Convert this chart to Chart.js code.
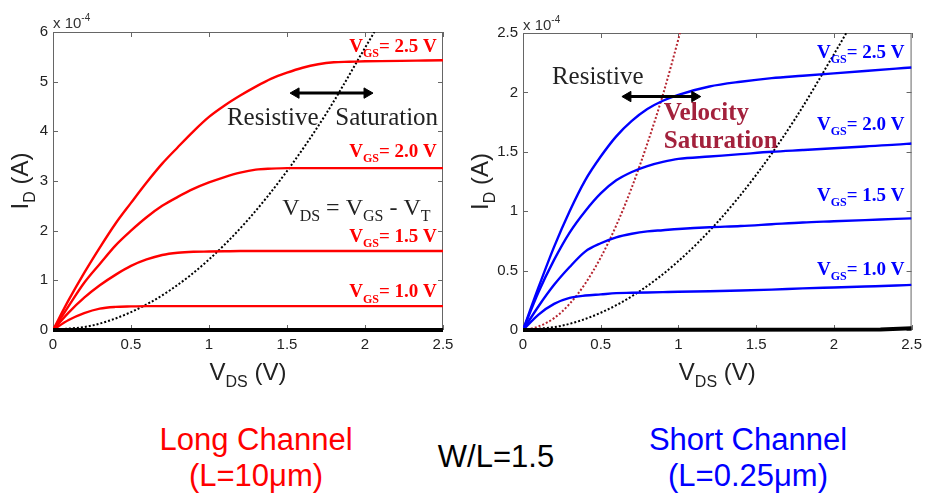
<!DOCTYPE html>
<html>
<head>
<meta charset="utf-8">
<script src="https://cdn.jsdelivr.net/npm/chart.js@4/dist/chart.umd.min.js"></script>
<style>
  body { margin: 0; background: #fff; }
  #wrap { position: relative; width: 928px; height: 498px; overflow: hidden; }
  canvas { position: absolute; top: 0; }
  .cap { position: absolute; width: 300px; text-align: center; font-family: "Liberation Sans", Arial, sans-serif; font-size: 31px; line-height: 31px; white-space: nowrap; }
</style>
</head>
<body>
<div id="wrap">
  <canvas id="long" width="465" height="400" style="left:0"></canvas>
  <canvas id="short" width="463" height="400" style="left:465px"></canvas>
  <div class="cap" style="left:106px; top:424px; color:#ff0000">Long Channel</div>
  <div class="cap" style="left:106px; top:460px; color:#ff0000">(L=10μm)</div>
  <div class="cap" style="left:346px; top:441px; color:#000">W/L=1.5</div>
  <div class="cap" style="left:598px; top:424px; color:#0000ff">Short Channel</div>
  <div class="cap" style="left:598px; top:460px; color:#0000ff">(L=0.25μm)</div>
</div>
<script>
// I-V curves, drain current in units of 1e-4 A
const vdsTicks = [0, 0.5, 1, 1.5, 2, 2.5];
const longIdTicks = [0, 1, 2, 3, 4, 5, 6];
const shortIdTicks = [0, 0.5, 1, 1.5, 2, 2.5];

// long channel, L = 10um
const longVds = [0, 0.1, 0.2, 0.3, 0.4, 0.5, 0.6, 0.7, 0.8, 0.9, 1.0, 1.1, 1.2, 1.3, 1.4, 1.5, 1.6, 1.7, 1.8, 1.9, 2.0, 2.5];
const longId25 = [0, 0.6, 1.15, 1.66, 2.14, 2.56, 2.97, 3.35, 3.68, 4.0, 4.29, 4.52, 4.72, 4.9, 5.06, 5.18, 5.28, 5.35, 5.39, 5.4, 5.41, 5.43];
const longId20 = [0, 0.48, 0.95, 1.33, 1.7, 2.0, 2.27, 2.5, 2.68, 2.84, 2.97, 3.08, 3.17, 3.23, 3.25, 3.26, 3.26, 3.26, 3.26, 3.26, 3.26, 3.26];
const longId15 = [0, 0.35, 0.65, 0.9, 1.11, 1.29, 1.42, 1.51, 1.555, 1.575, 1.58, 1.585, 1.59, 1.59, 1.59, 1.59, 1.59, 1.59, 1.59, 1.59, 1.59, 1.59];
const longId10 = [0, 0.2, 0.34, 0.43, 0.465, 0.475, 0.48, 0.48, 0.48, 0.48, 0.48, 0.48, 0.48, 0.48, 0.48, 0.48, 0.48, 0.48, 0.48, 0.48, 0.48, 0.48];
const longEdgeVds = [0, 0.25, 0.5, 0.75, 1.0, 1.25, 1.5, 1.75, 2.0, 2.06];
const longEdgeId = [0, 0.09, 0.36, 0.8, 1.42, 2.22, 3.2, 4.35, 5.68, 6.0];
const longOffVds = [0, 2.5];
const longOffId = [0, 0];

// short channel, L = 0.25um
const shortVds = [0, 0.1, 0.2, 0.3, 0.4, 0.5, 0.6, 0.7, 0.8, 0.9, 1.0, 1.2, 1.4, 1.6, 1.8, 2.0, 2.2, 2.4, 2.5];
const shortId25 = [0, 0.36, 0.7, 1.0, 1.26, 1.46, 1.63, 1.76, 1.86, 1.93, 1.98, 2.05, 2.09, 2.12, 2.14, 2.16, 2.18, 2.2, 2.21];
const shortId20 = [0, 0.32, 0.59, 0.82, 1.0, 1.15, 1.26, 1.33, 1.38, 1.415, 1.44, 1.46, 1.48, 1.5, 1.515, 1.53, 1.545, 1.56, 1.57];
const shortId15 = [0, 0.2, 0.38, 0.53, 0.66, 0.73, 0.78, 0.81, 0.83, 0.84, 0.85, 0.865, 0.875, 0.89, 0.905, 0.915, 0.925, 0.935, 0.94];
const shortId10 = [0, 0.13, 0.22, 0.27, 0.29, 0.3, 0.31, 0.313, 0.316, 0.319, 0.322, 0.326, 0.332, 0.34, 0.35, 0.358, 0.366, 0.374, 0.38];
const velSatVds = [0, 0.1, 0.2, 0.3, 0.4, 0.5, 0.6, 0.7, 0.8, 0.9, 1.0, 1.01];
const velSatId = [0, 0.03, 0.1, 0.22, 0.39, 0.61, 0.88, 1.2, 1.57, 1.98, 2.45, 2.5];
const shortEdgeVds = [0, 0.25, 0.5, 0.75, 1.0, 1.25, 1.5, 1.75, 2.0, 2.08];
const shortEdgeId = [0, 0.036, 0.145, 0.326, 0.58, 0.906, 1.305, 1.776, 2.32, 2.5];
const shortOffVds = [0, 2.3, 2.5];
const shortOffId = [0, 0.004, 0.015];

const SANS = '"Liberation Sans", Arial, sans-serif';
const SERIF = '"Liberation Serif", "Times New Roman", serif';
const RED = '#ff0000';
const BLUE = '#0000ff';

const pts = (xs, ys) => xs.map((v, i) => ({ x: v, y: ys[i] }));

function curve(xs, ys, color) {
    return { data: pts(xs, ys), borderColor: color, borderWidth: 2.4, pointRadius: 0, cubicInterpolationMode: 'monotone' };
}
function dotted(xs, ys, color) {
    return { data: pts(xs, ys), borderColor: color, borderWidth: 2, borderDash: [2, 2], pointRadius: 0, cubicInterpolationMode: 'monotone' };
}
function baseline(xs, ys) {
    return { data: pts(xs, ys), borderColor: '#000', borderWidth: 4, pointRadius: 0, clip: false };
}
function arrow(x0, x1, y) {
    return {
        data: [{ x: x0, y: y }, { x: x1, y: y }], borderColor: '#000', borderWidth: 3,
        pointStyle: 'triangle', pointRadius: 6, pointRotation: [-90, 90],
        pointBackgroundColor: '#000', pointBorderColor: '#000', pointBorderWidth: 1, clip: false
    };
}

// text with sub/superscript pieces
function drawRich(ctx, x, y, parts, t) {
    const size = t.size, weight = t.weight || 'normal', family = t.family || SERIF;
    const fontOf = p => `${weight} ${p[1] ? Math.round(size * 0.65) : size}px ${family}`;
    let total = 0;
    const widths = parts.map(p => { ctx.font = fontOf(p); const w = ctx.measureText(p[0]).width; total += w; return w; });
    let cx = x;
    if (t.align === 'right') cx = x - total;
    if (t.align === 'center') cx = x - total / 2;
    ctx.fillStyle = t.color || '#000';
    ctx.textAlign = 'left';
    ctx.textBaseline = 'alphabetic';
    parts.forEach((p, i) => {
        ctx.font = fontOf(p);
        let dy = 0;
        if (p[1] === 'sub') dy = size * 0.28;
        if (p[1] === 'sup') dy = -size * 0.45;
        ctx.fillText(p[0], cx, y + dy);
        cx += widths[i];
    });
}

const framePlugin = {
    id: 'frame',
    beforeDatasetsDraw(chart) {
        const { ctx, chartArea: a, scales: { x, y } } = chart;
        ctx.save();
        ctx.strokeStyle = '#666';
        ctx.lineWidth = 1;
        ctx.strokeRect(a.left + 0.5, a.top + 0.5, a.width - 1, a.height - 1);
        ctx.beginPath();
        x.ticks.forEach(t => {
            const px = Math.round(x.getPixelForValue(t.value)) + 0.5;
            ctx.moveTo(px, a.bottom); ctx.lineTo(px, a.bottom - 5);
            ctx.moveTo(px, a.top); ctx.lineTo(px, a.top + 5);
        });
        y.ticks.forEach(t => {
            const py = Math.round(y.getPixelForValue(t.value)) + 0.5;
            ctx.moveTo(a.left, py); ctx.lineTo(a.left + 5, py);
            ctx.moveTo(a.right, py); ctx.lineTo(a.right - 5, py);
        });
        ctx.stroke();
        ctx.restore();
    },
    afterDatasetsDraw(chart, args, opts) {
        const { ctx, chartArea: a, scales: { x, y } } = chart;
        ctx.save();
        // exponent above the y axis
        drawRich(ctx, a.left, a.top - opts.expGap, [['x 10'], ['-4', 'sup']], { size: 15, family: SANS, color: '#333' });
        // axis titles
        drawRich(ctx, (a.left + a.right) / 2, 380, [['V'], ['DS', 'sub'], [' (V)']], { size: 24, family: SANS, color: '#222', align: 'center' });
        ctx.save();
        ctx.translate(opts.yTitleX, (a.top + a.bottom) / 2);
        ctx.rotate(-Math.PI / 2);
        drawRich(ctx, 0, 0, [['I'], ['D', 'sub'], [' (A)']], { size: 24, family: SANS, color: '#222', align: 'center' });
        ctx.restore();
        // annotations in data coordinates
        opts.notes.forEach(n => {
            drawRich(ctx, x.getPixelForValue(n.x), y.getPixelForValue(n.y), n.parts, n);
        });
        ctx.restore();
    }
};

function scalesFor(yMax, yTicks, yWidth) {
    const tickFont = { family: SANS, size: 15 };
    return {
        x: {
            type: 'linear', min: 0, max: 2.5,
            grid: { display: false, drawTicks: false }, border: { display: false },
            afterBuildTicks: s => { s.ticks = vdsTicks.map(v => ({ value: v })); },
            ticks: { font: tickFont, color: '#222', padding: 6, maxRotation: 0, callback: v => String(v) },
            afterFit: s => { s.height = 70; }
        },
        y: {
            type: 'linear', min: 0, max: yMax,
            grid: { display: false, drawTicks: false }, border: { display: false },
            afterBuildTicks: s => { s.ticks = yTicks.map(v => ({ value: v })); },
            ticks: { font: tickFont, color: '#222', padding: 5, callback: v => String(v) },
            afterFit: s => { s.width = yWidth; }
        }
    };
}

const vgs = (v, x, y, color) => ({
    x: x, y: y, parts: [['V'], ['GS', 'sub'], ['= ' + v + ' V']],
    size: 19, weight: 'bold', color: color, align: 'right'
});

new Chart(document.getElementById('long'), {
    type: 'line',
    data: {
        datasets: [
            baseline(longOffVds, longOffId),
            arrow(1.558, 2.013, 4.77),
            curve(longVds, longId25, RED),
            curve(longVds, longId20, RED),
            curve(longVds, longId15, RED),
            curve(longVds, longId10, RED),
            dotted(longEdgeVds, longEdgeId, '#000')
        ]
    },
    options: {
        responsive: false, animation: false, devicePixelRatio: 1,
        layout: { padding: { top: 32, right: 22, left: 0, bottom: 0 } },
        scales: scalesFor(6, longIdTicks, 53),
        plugins: {
            legend: { display: false }, tooltip: { enabled: false },
            frame: {
                expGap: 4, yTitleX: 28,
                notes: [
                    vgs('2.5', 2.46, 5.6, RED),
                    vgs('2.0', 2.46, 3.48, RED),
                    vgs('1.5', 2.46, 1.77, RED),
                    vgs('1.0', 2.46, 0.66, RED),
                    { x: 1.115, y: 4.13, parts: [['Resistive']], size: 25, color: '#222' },
                    { x: 1.81, y: 4.13, parts: [['Saturation']], size: 25, color: '#222' },
                    { x: 1.47, y: 2.32, parts: [['V'], ['DS', 'sub'], [' = V'], ['GS', 'sub'], [' - V'], ['T', 'sub']], size: 24, color: '#222' }
                ]
            }
        }
    },
    plugins: [framePlugin]
});

new Chart(document.getElementById('short'), {
    type: 'line',
    data: {
        datasets: [
            baseline(shortOffVds, shortOffId),
            arrow(0.675, 1.105, 1.965),
            curve(shortVds, shortId25, BLUE),
            curve(shortVds, shortId20, BLUE),
            curve(shortVds, shortId15, BLUE),
            curve(shortVds, shortId10, BLUE),
            dotted(velSatVds, velSatId, '#b5242f'),
            dotted(shortEdgeVds, shortEdgeId, '#000')
        ]
    },
    options: {
        responsive: false, animation: false, devicePixelRatio: 1,
        layout: { padding: { top: 33, right: 16, left: 0, bottom: 0 } },
        scales: scalesFor(2.5, shortIdTicks, 58),
        plugins: {
            legend: { display: false }, tooltip: { enabled: false },
            frame: {
                expGap: 3, yTitleX: 23,
                notes: [
                    vgs('2.5', 2.455, 2.293, BLUE),
                    vgs('2.0', 2.455, 1.686, BLUE),
                    vgs('1.5', 2.455, 1.088, BLUE),
                    vgs('1.0', 2.455, 0.464, BLUE),
                    { x: 0.186, y: 2.074, parts: [['Resistive']], size: 25, color: '#222' },
                    { x: 0.906, y: 1.77, parts: [['Velocity']], size: 25, weight: 'bold', color: '#a3213c' },
                    { x: 0.906, y: 1.535, parts: [['Saturation']], size: 25, weight: 'bold', color: '#a3213c' }
                ]
            }
        }
    },
    plugins: [framePlugin]
});
</script>
</body>
</html>
